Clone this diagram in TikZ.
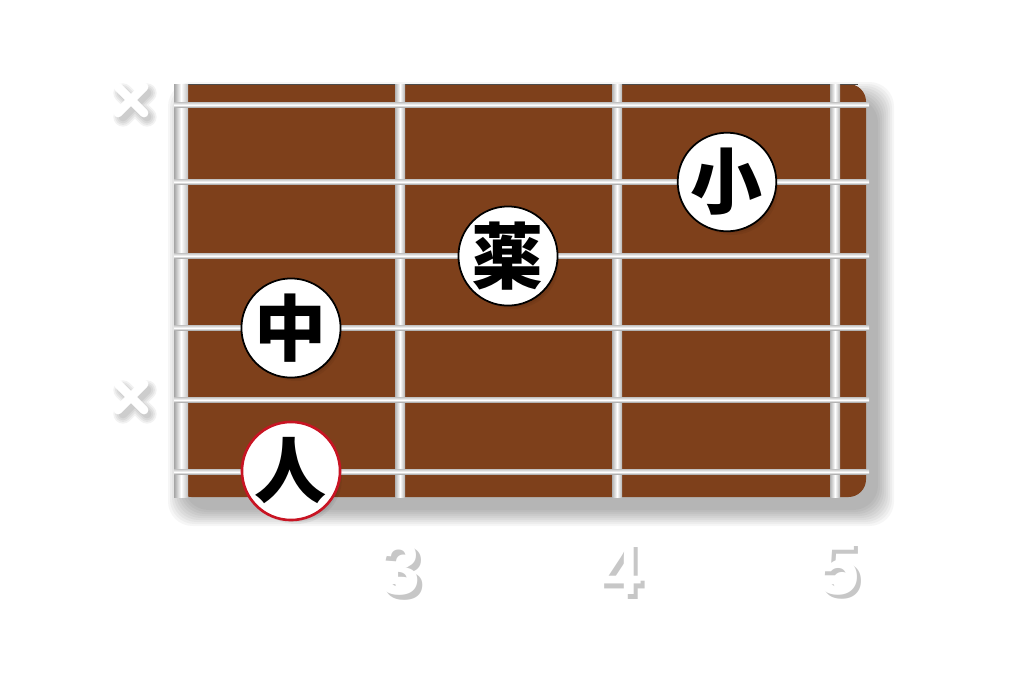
\documentclass[tikz,border=0pt]{standalone}
\usepackage{fontspec}
\setsansfont{Liberation Sans}
\newfontfamily\cjk{Noto Sans CJK JP}
\definecolor{board}{RGB}{126,64,27}
\definecolor{ringred}{RGB}{200,20,35}
\newcommand{\shadowed}[1]{%
	\makebox[0pt][l]{\hspace{2.5pt}\raisebox{-2.5pt}{\textcolor{black!22}{#1}}}#1}

\begin{document}
\begin{tikzpicture}[x=0.02cm,y=-0.02cm,
	finger/.style={circle, draw=black, line width=1pt, fill=white, minimum size=1.8cm, inner sep=0pt, font=\cjk\bfseries\fontsize{41}{41}\selectfont},
	fretnum/.style={font=\sffamily\bfseries\fontsize{43}{43}\selectfont, text=white, inner sep=0pt},
	mute/.style={line width=5pt, line cap=round, draw=white}]
	
	\useasboundingbox[fill=white] (0,0) rectangle (1024,683);
	
	% board and its shadow
	\foreach \s in {0,2,...,16}
		\fill[black, opacity=0.035, rounded corners=14] (184-\s,98-\s) rectangle (878+\s,510+\s);
	\fill[board, rounded corners=10] (174,84) rectangle (866,497);
	\draw[black!70, line width=0.8pt] (178,84.5) -- (858,84.5);
	
	% nut and frets
	\shade[left color=gray!70, right color=gray!50, middle color=white] (174,84) rectangle (188,497);
	\foreach \x in {400,617,835}
		\shade[left color=gray!60, right color=gray!60, middle color=white] (\x-5,84) rectangle (\x+5,497);
	
	% strings
	\foreach \y in {105,182,256,328,400,472}
		\shade[top color=gray!40, bottom color=gray!75, middle color=white] (174,\y-2.5) rectangle (869,\y+2.5);
	
	% muted strings
	\foreach \y [count=\i] in {100,397} {
		\foreach \s in {0,2,4,6}
			\draw[mute, draw=black, opacity=0.05, line width=5pt+\s pt] (123,\y-7) -- (147,\y+17) (147,\y-7) -- (123,\y+17);
		\draw[mute] (118,\y-13) -- (144,\y+13) (144,\y-13) -- (118,\y+13);
		\coordinate (x\i) at (131,\y);
	}
	
	% fingers
	\foreach \x/\y in {727/182, 508/256, 291/328, 291/471}
		\foreach \s in {0,2,...,8}
			\fill[black, opacity=0.05] (\x+5,\y+7) circle (38+\s);
	\node[finger] (ko) at (727,182) {小};
	\node[finger] (kusuri) at (508,256) {薬};
	\node[finger] (naka) at (291,328) {中};
	\node[finger, draw=ringred, line width=1.5pt] (hito) at (291,471) {人};
	
	% fret numbers
	\foreach \n/\x in {3/400,4/620,5/838}
		\node[fretnum] (f\n) at (\x,571) {\shadowed{\n}};
\end{tikzpicture}
\end{document}
